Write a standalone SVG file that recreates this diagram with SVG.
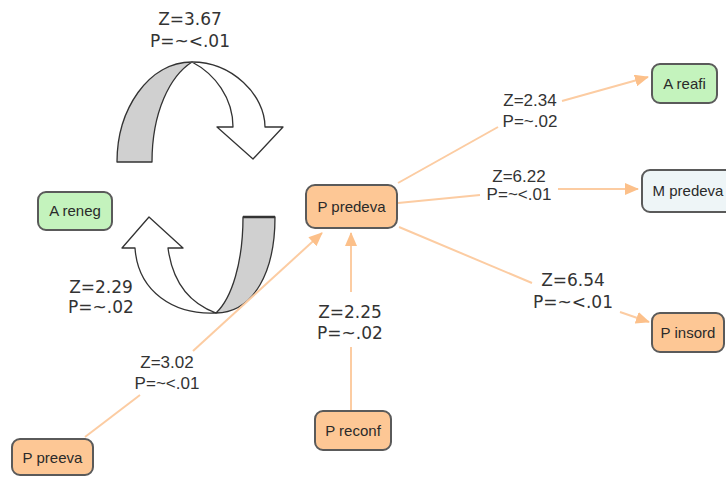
<svg xmlns="http://www.w3.org/2000/svg" width="726" height="479" viewBox="0 0 726 479">
  <style>
    .node rect { stroke: #5a5a5a; stroke-width: 2; }
    .orange rect { fill: #fdc795; }
    .green rect { fill: #c4f3bd; }
    .blue rect { fill: #eef5f7; }
    .node text { font-family: "Liberation Sans", Arial, sans-serif; font-size: 15px; fill: #2a2a2a; text-anchor: middle; }
    .edge { stroke: #fccca2; stroke-width: 2; fill: none; }
    .lbl { font-family: "DejaVu Sans", Verdana, sans-serif; font-size: 17px; fill: #333; text-anchor: middle; }
    .lbl2 { font-family: "Liberation Sans", Arial, sans-serif; font-size: 17px; fill: #333; text-anchor: middle; }
    .band { stroke: #333; stroke-width: 1.3; stroke-linejoin: round; }
  </style>
  <defs>
    <marker id="arrow" markerUnits="userSpaceOnUse" markerWidth="14" markerHeight="12" refX="13" refY="6" orient="auto">
      <path d="M0,0 L14,6 L0,12 Z" fill="#fcc08a"/>
    </marker>
  </defs>
  <rect width="726" height="479" fill="#ffffff"/>

  <!-- feedback loop arrows -->
  <g id="loop-top">
    <path class="band" fill="#d0d0d0" d="M117,162 C117,110 148,62 192,62 C170,76 152,112 152,162 Z"/>
    <path class="band" fill="#ffffff" d="M192,62 C232,62 265,95 265,127 L283,127 L253,159 L217,127 L233,127 C233,98 215,74 192,62 Z"/>
  </g>
  <g id="loop-bottom">
    <path class="band" fill="#d0d0d0" d="M243,217 L275,217 C275,272 254,312 216,313 C232,298 243,262 243,217 Z"/>
    <path class="band" fill="#ffffff" d="M216,313 C174,315 138,292 135,248 L122,248 L149,217 L183,248 L168,248 C172,278 186,302 216,313 Z"/>
    <line x1="243" y1="217" x2="275" y2="217" stroke="#333" stroke-width="2.5"/>
  </g>

  <!-- connectors -->
  <g id="connectors">
    <line class="edge" x1="85" y1="437" x2="140" y2="395"/>
    <line class="edge" x1="193" y1="351" x2="322" y2="233" marker-end="url(#arrow)"/>
    <line class="edge" x1="351" y1="411" x2="351" y2="347"/>
    <line class="edge" x1="351" y1="292" x2="351" y2="233" marker-end="url(#arrow)"/>
    <line class="edge" x1="398" y1="183" x2="498" y2="127"/>
    <line class="edge" x1="562" y1="101" x2="648" y2="77" marker-end="url(#arrow)"/>
    <line class="edge" x1="398" y1="203" x2="480" y2="195"/>
    <line class="edge" x1="558" y1="189" x2="638" y2="189" marker-end="url(#arrow)"/>
    <line class="edge" x1="399" y1="227" x2="532" y2="283"/>
    <line class="edge" x1="620" y1="312" x2="649" y2="322" marker-end="url(#arrow)"/>
  </g>

  <!-- connector labels -->
  <g id="labels">
    <text class="lbl" x="190" y="25">Z=3.67</text>
    <text class="lbl" x="190" y="47">P=~&lt;.01</text>
    <text class="lbl" x="101" y="293">Z=2.29</text>
    <text class="lbl" x="101" y="313">P=~.02</text>
    <text class="lbl2" x="167" y="368">Z=3.02</text>
    <text class="lbl2" x="167" y="389">P=~&lt;.01</text>
    <text class="lbl" x="350" y="318">Z=2.25</text>
    <text class="lbl" x="350" y="339">P=~.02</text>
    <text class="lbl2" x="530" y="106">Z=2.34</text>
    <text class="lbl2" x="530" y="127">P=~.02</text>
    <text class="lbl2" x="519" y="182" font-size="16">Z=6.22</text>
    <text class="lbl2" x="519" y="200" font-size="16">P=~&lt;.01</text>
    <text class="lbl" x="573" y="286">Z=6.54</text>
    <text class="lbl" x="573" y="308">P=~&lt;.01</text>
  </g>

  <!-- nodes -->
  <g id="A-reneg" class="node green">
    <rect x="38" y="192" width="74" height="38" rx="8"/>
    <text x="75" y="216">A reneg</text>
  </g>
  <g id="P-predeva" class="node orange">
    <rect x="306" y="185" width="91" height="43" rx="9"/>
    <text x="351.5" y="212">P predeva</text>
  </g>
  <g id="A-reafi" class="node green">
    <rect x="652" y="64" width="65" height="39" rx="8"/>
    <text x="684.5" y="89">A reafi</text>
  </g>
  <g id="M-predeva" class="node blue">
    <rect x="642" y="170" width="92" height="42" rx="8"/>
    <text x="688" y="196">M predeva</text>
  </g>
  <g id="P-insord" class="node orange">
    <rect x="652" y="313" width="72" height="39" rx="8"/>
    <text x="688" y="338">P insord</text>
  </g>
  <g id="P-reconf" class="node orange">
    <rect x="315" y="411" width="76" height="39" rx="8"/>
    <text x="353" y="436">P reconf</text>
  </g>
  <g id="P-preeva" class="node orange">
    <rect x="12" y="439" width="81" height="36" rx="8"/>
    <text x="52.5" y="463">P preeva</text>
  </g>
</svg>
